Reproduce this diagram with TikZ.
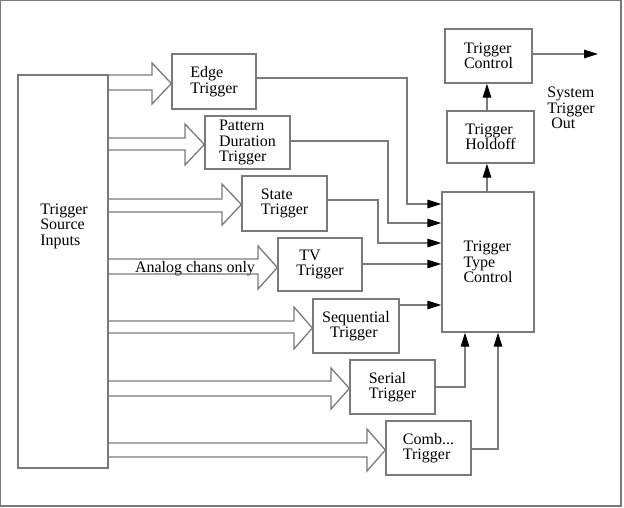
\documentclass[tikz,border=0pt]{standalone}
\usepackage{fontspec}
\setmainfont{Liberation Serif}
\newfontfamily\diagfont{Liberation Serif}
\usetikzlibrary{arrows.meta}
\definecolor{linegray}{RGB}{122,122,122}
\tikzset{
  every node/.style={font=\diagfont\fontsize{16}{15.5}\selectfont, text=black},
  box/.style={draw=linegray, line width=1.3pt, rectangle, inner sep=0pt, align=left},
  conn/.style={draw=linegray, line width=1.3pt},
  arr/.style={conn, -{Triangle[length=14pt,width=8.5pt,black]}},
  blk/.style={draw=linegray, line width=1.3pt, line join=miter},
  lbl/.style={inner sep=0pt, align=left}
}
\begin{document}
\begin{tikzpicture}[x=1pt,y=-1pt]
\useasboundingbox (0,0) rectangle (624,507);
\draw[conn] (0.7,0.7) rectangle (621,506);

% boxes
\node[box, minimum width=90pt, minimum height=393pt] (src) at (63,271.5) {};
\node[lbl] (srctext) at (64,226) {Trigger\\Source\\Inputs};
\node[box, minimum width=84pt, minimum height=55pt] (edge) at (214,81.5) {Edge\\Trigger};
\node[box, minimum width=85pt, minimum height=53pt] (patt) at (247.5,142.5) {Pattern\\Duration\\Trigger};
\node[box, minimum width=85pt, minimum height=55pt] (state) at (284.5,203.5) {State\\Trigger};
\node[box, minimum width=84pt, minimum height=53pt] (tv) at (320,264.5) {\hspace*{3pt}TV\\Trigger};
\node[box, minimum width=86pt, minimum height=54pt] (seq) at (356,326) {Sequential\\\hspace*{8pt}Trigger};
\node[box, minimum width=85pt, minimum height=54pt] (serial) at (392.5,387) {Serial\\Trigger};
\node[box, minimum width=85pt, minimum height=54pt] (comb) at (428.5,448) {Comb...\\Trigger};
\node[box, minimum width=92pt, minimum height=140pt] (ttc) at (488,262) {Trigger\\Type\\Control};
\node[box, minimum width=87pt, minimum height=52pt] (hold) at (490.5,137) {Trigger\\Holdoff};
\node[box, minimum width=87pt, minimum height=54pt] (ctrl) at (488.5,56) {Trigger\\Control};
\node[lbl] (sysout) at (571,108) {System\\Trigger\\\hspace*{4pt}Out};
\node[inner sep=0pt, anchor=base] (analog) at (195,272) {Analog chans only};
\coordinate (outend) at (598,54);

% block arrows from source
\draw[blk] (src.east |- 0,75) -- (152,75) -- (152,63) -- (edge.west |- 0,83.5) -- (152,104) -- (152,90) -- (src.east |- 0,90);
\draw[blk] (src.east |- 0,138) -- (185,138) -- (185,124) -- (patt.west |- 0,144.5) -- (185,165) -- (185,150) -- (src.east |- 0,150);
\draw[blk] (src.east |- 0,199) -- (222,199) -- (222,184) -- (state.west |- 0,204.5) -- (222,225) -- (222,212) -- (src.east |- 0,212);
\draw[blk] (src.east |- 0,259) -- (258,259) -- (258,246) -- (tv.west |- 0,267.5) -- (258,289) -- (258,274) -- (src.east |- 0,274);
\draw[blk] (src.east |- 0,321) -- (294,321) -- (294,307) -- (seq.west |- 0,328) -- (294,349) -- (294,333) -- (src.east |- 0,333);
\draw[blk] (src.east |- 0,381) -- (331,381) -- (331,368) -- (serial.west |- 0,388.5) -- (331,409) -- (331,396) -- (src.east |- 0,396);
\draw[blk] (src.east |- 0,443) -- (367,443) -- (367,429) -- (comb.west |- 0,450) -- (367,471) -- (367,457) -- (src.east |- 0,457);

% connectors to trigger type control
\draw[arr] (edge.east |- 0,78) -- (407,78) -- (407,204) -- (ttc.west |- 0,204);
\draw[arr] (patt.east |- 0,141) -- (388,141) -- (388,223) -- (ttc.west |- 0,223);
\draw[arr] (state.east |- 0,200) -- (378,200) -- (378,243) -- (ttc.west |- 0,243);
\draw[arr] (tv.east |- 0,264) -- (ttc.west |- 0,264);
\draw[arr] (seq.east |- 0,305) -- (ttc.west |- 0,305);
\draw[arr] (serial.east |- 0,387) -- (465,387) -- (ttc.south -| 465,0);
\draw[arr] (comb.east |- 0,449) -- (498,449) -- (ttc.south -| 498,0);

% vertical chain
\draw[arr] (ttc.north -| 487,0) -- (hold.south -| 487,0);
\draw[arr] (hold.north -| 487,0) -- (ctrl.south -| 487,0);
\draw[arr] (ctrl.east |- 0,54) -- (outend);
\end{tikzpicture}
\end{document}
